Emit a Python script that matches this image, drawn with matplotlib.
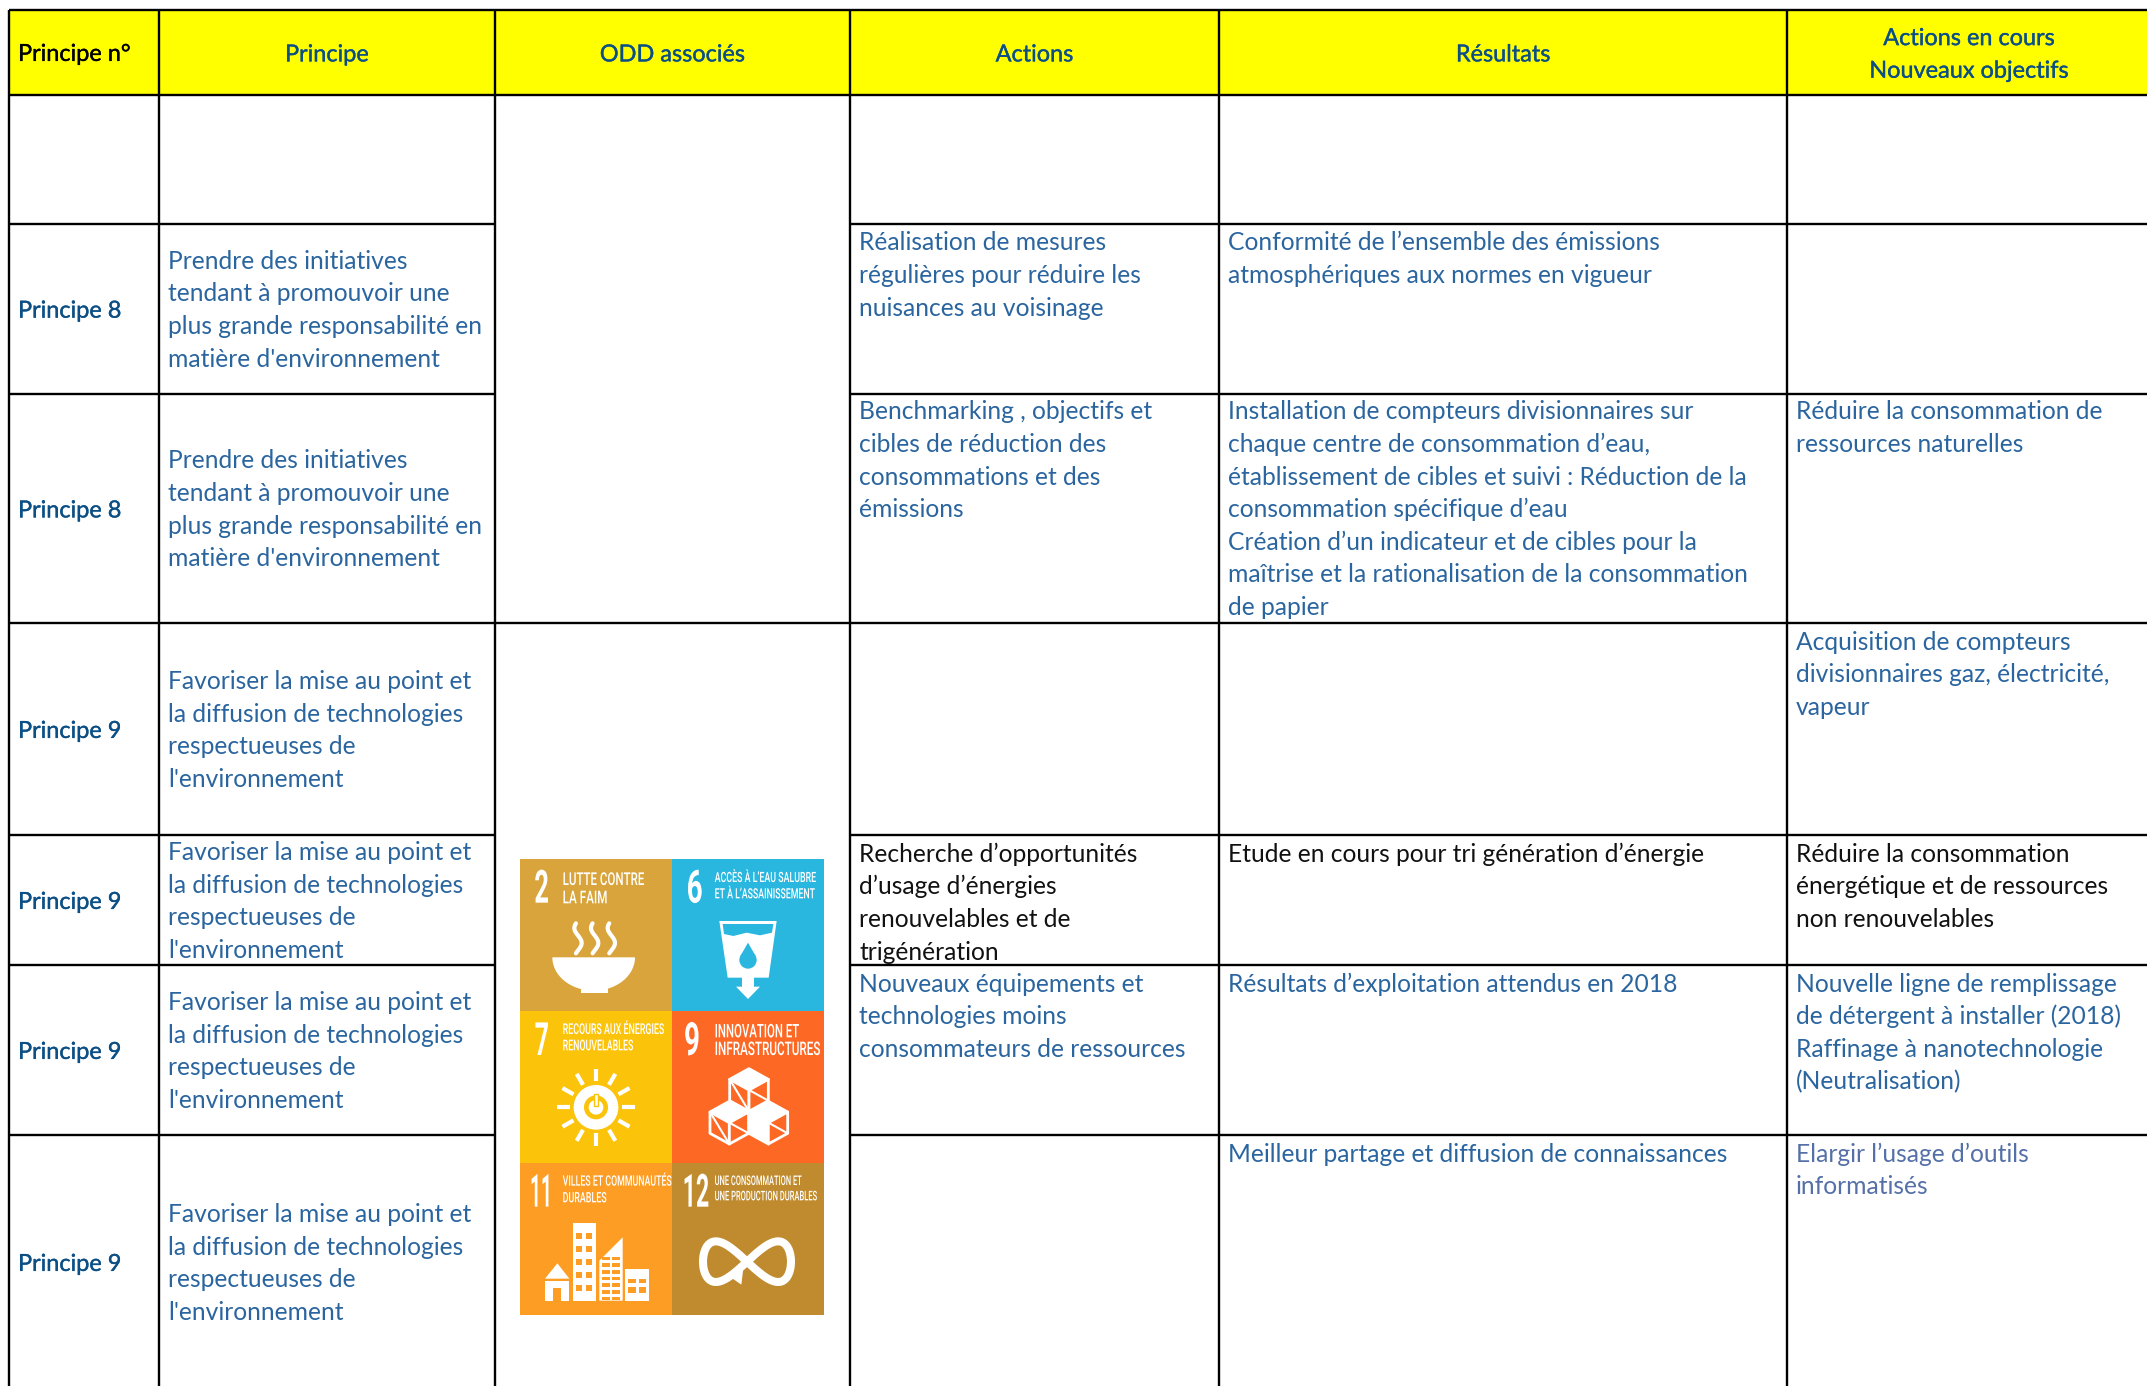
import numpy as np
import matplotlib
matplotlib.use('Agg')
import matplotlib.pyplot as plt
import matplotlib.patheffects as pe
from matplotlib.patches import Rectangle, Polygon, Circle
from matplotlib.text import Text
from matplotlib.transforms import Affine2D, Bbox

plt.rcParams['font.family'] = ['Lato', 'DejaVu Sans']

# ---------- contenu du tableau
headers = ['Principe n°', 'Principe', 'ODD associés', 'Actions', 'Résultats',
           'Actions en cours\nNouveaux objectifs']

principe_no = ['Principe 8', 'Principe 8', 'Principe 9', 'Principe 9', 'Principe 9', 'Principe 9']
txt8 = ['Prendre des initiatives', 'tendant à promouvoir une',
        'plus grande responsabilité en', "matière d'environnement"]
txt9 = ['Favoriser la mise au point et', 'la diffusion de technologies',
        'respectueuses de', "l'environnement"]
principes = [txt8, txt8, txt9, txt9, txt9, txt9]

actions = {1: ['Réalisation de mesures', 'régulières pour réduire les', 'nuisances au voisinage'],
           2: ['Benchmarking , objectifs et', 'cibles de réduction des',
               'consommations et des', 'émissions'],
           4: ["Recherche d’opportunités", 'd’usage d’énergies',
               'renouvelables et de', 'trigénération'],
           5: ['Nouveaux équipements et', 'technologies moins',
               'consommateurs de ressources']}
resultats = {1: ['Conformité de l’ensemble des émissions', 'atmosphériques aux normes en vigueur'],
             2: ['Installation de compteurs divisionnaires sur',
                 'chaque centre de consommation d’eau,',
                 'établissement de cibles et suivi : Réduction de la',
                 'consommation spécifique d’eau',
                 'Création d’un indicateur et de cibles pour la',
                 'maîtrise et la rationalisation de la consommation',
                 'de papier'],
             4: ['Etude en cours pour tri génération d’énergie'],
             5: ['Résultats d’exploitation attendus en 2018'],
             6: ['Meilleur partage et diffusion de connaissances']}
objectifs = {2: ['Réduire la consommation de', 'ressources naturelles'],
             3: ['Acquisition de compteurs', 'divisionnaires gaz, électricité,', 'vapeur'],
             4: ['Réduire la consommation', 'énergétique et de ressources', 'non renouvelables'],
             5: ['Nouvelle ligne de remplissage', 'de détergent à installer (2018)',
                 'Raffinage à nanotechnologie', '(Neutralisation)'],
             6: ['Elargir l’usage d’outils', 'informatisés']}

odd_numeros = ['2', '6', '7', '9', '11', '12']
odd_titres = [['LUTTE CONTRE', 'LA FAIM'],
              ['ACCÈS À L’EAU SALUBRE', 'ET À L’ASSAINISSEMENT'],
              ['RECOURS AUX ÉNERGIES', 'RENOUVELABLES'],
              ['INNOVATION ET', 'INFRASTRUCTURES'],
              ['VILLES ET COMMUNAUTÉS', 'DURABLES'],
              ['UNE CONSOMMATION ET', 'UNE PRODUCTION DURABLES']]
odd_couleurs = ['#D8A43B', '#29B7E0', '#FCC30B', '#FD6925', '#FD9D24', '#BF8B2E']

# ---------- geometrie (pixels de l'image)
W, H = 2147, 1386
col_x = [9, 159, 495, 850, 1219, 1787, W + 5]
row_y = [10, 94.5, 223.5, 394, 623, 835, 965, 1135, 1392]
LINE_H = 32.6
BASE = 8.9
FS = 17.7
FS_H = 16.9
BLEU = '#2A659F'
BLEU_F = '#0B4F85'

fig = plt.figure(figsize=(W / 100, H / 100), dpi=100)
ax = fig.add_axes([0, 0, 1, 1])
ax.set_xlim(0, W)
ax.set_ylim(H, 0)
ax.axis('off')

ax.add_patch(Rectangle((col_x[0], row_y[0]), col_x[-1] - col_x[0], row_y[1] - row_y[0],
                       fc='#FFFF00', ec='none', zorder=0))

LW = 1.7
for x in col_x[:-1]:
    ax.plot([x, x], [row_y[0], H + 5], color='k', lw=LW, solid_capstyle='butt', zorder=3)
for y in [row_y[0], row_y[1], row_y[4]]:
    ax.plot([col_x[0], W + 5], [y, y], color='k', lw=LW, solid_capstyle='butt', zorder=3)
for y in [row_y[2], row_y[3], row_y[5], row_y[6], row_y[7]]:
    ax.plot([col_x[0], col_x[2]], [y, y], color='k', lw=LW, solid_capstyle='butt', zorder=3)
    ax.plot([col_x[3], W + 5], [y, y], color='k', lw=LW, solid_capstyle='butt', zorder=3)


def gras(color):
    return [pe.withStroke(linewidth=0.25, foreground=color)]


def bloc(x, yc, lignes, color, fs=FS, **kw):
    # lignes centrees verticalement sur yc
    y0 = yc - (len(lignes) - 1) * LINE_H / 2
    for i, l in enumerate(lignes):
        ax.text(x, y0 + i * LINE_H + BASE, l, color=color, fontsize=fs, va='baseline', **kw)


# en-tetes
for i, h in enumerate(headers):
    xc = (col_x[i] + min(col_x[i + 1], W)) / 2
    if i == 0:
        ax.text(col_x[0] + 9, 60.9, h, color='k', fontsize=FS_H, va='baseline', path_effects=gras('k'))
    elif i == 5:
        bloc(xc + 2, 52.5, h.split('\n'), BLEU_F, fs=FS_H, ha='center', path_effects=gras(BLEU_F))
    else:
        bloc(xc, 52.5, h.split('\n'), BLEU_F, fs=FS_H, ha='center', path_effects=gras(BLEU_F))

# colonnes 1 et 2
for r in range(6):
    yc = (row_y[r + 2] + row_y[r + 3]) / 2
    if r == 5:
        yc = 1262
    bloc(col_x[0] + 9, yc, [principe_no[r]], BLEU_F, fs=FS_H, path_effects=gras(BLEU_F))
    bloc(col_x[1] + 9, yc, principes[r], BLEU)


def haut(col, cells, couleurs={}):
    for r, lignes in cells.items():
        ytop = row_y[r + 1] + (-1.5 if r == 2 else 0)
        for i, l in enumerate(lignes):
            ax.text(col_x[col] + 9, ytop + 18 + i * LINE_H + BASE, l,
                    color=couleurs.get(r, BLEU), fontsize=FS, va='baseline')


haut(3, actions, {4: '#111111'})
haut(4, resultats, {4: '#111111'})
haut(5, objectifs, {4: '#111111', 6: '#5570A8'})


# ---------- texte condense pour les pictogrammes
class Serre(pe.AbstractPathEffect):
    def __init__(self, sx):
        super().__init__()
        self.sx = sx

    def draw_path(self, renderer, gc, tpath, affine, rgbFace=None):
        m = affine.get_matrix().copy()
        m[0, 0] *= self.sx
        m[0, 1] *= self.sx
        renderer.draw_path(gc, tpath, Affine2D(m), rgbFace)


class TexteEtroit(Text):
    sx = 1.0

    def get_window_extent(self, renderer=None, dpi=None):
        bb = super().get_window_extent(renderer, dpi)
        return Bbox.from_extents(bb.x0, bb.y0, bb.x0 + bb.width * self.sx, bb.y1)


def zx(x):
    return 500 + np.asarray(x) / 3


def zy(y):
    return 840 + np.asarray(y) / 3


rend = fig.canvas.get_renderer()


def etroit(x0, x1, base, s, fs, weight='normal'):
    # texte de x0 a x1 (coordonnees du recadrage), serre en largeur
    t = TexteEtroit(zx(x0), zy(base), s, color='white', fontsize=fs, family=['Roboto', 'DejaVu Sans'],
                    fontweight=weight, va='baseline', ha='left', zorder=6)
    ax.add_artist(t)
    t.sx = (x1 - x0) / 3 / t.get_window_extent(rend).width
    t.set_path_effects([Serre(t.sx)])


def poly(pts, fc='white', z=5):
    pts = np.asarray(pts, dtype=float)
    ax.add_patch(Polygon(np.c_[zx(pts[:, 0]), zy(pts[:, 1])], closed=True, fc=fc, ec='none', zorder=z))


def rect(x0, y0, x1, y1, fc='white'):
    ax.add_patch(Rectangle((zx(x0), zy(y0)), (x1 - x0) / 3, (y1 - y0) / 3, fc=fc, ec='none', zorder=5))


def ligne(xs, ys, lw=2.0, color='white', cap='round'):
    ax.plot(zx(xs), zy(ys), color=color, lw=lw, solid_capstyle=cap, zorder=6)


def disque(x, y, r, fc='white', z=5):
    ax.add_patch(Circle((zx(x), zy(y)), r / 3, fc=fc, ec='none', zorder=z))


tx = [60, 516]
ty = [57, 513, 969]
T = 456
num_x = [(103, 147), (560, 608), (104, 147), (552, 600), (90, 156), (548, 628)]
num_base = [188, 188, 645, 645, 1100, 1100]
tit_x = [[(188, 432), (188, 322)], [(644, 946), (644, 942)], [(188, 493), (188, 400)],
         [(644, 897), (644, 961)], [(188, 513), (188, 319)], [(644, 905), (644, 952)]]
tit_y = [[135, 190], [126, 175], [582, 631], [592, 645], [1037, 1087], [1035, 1081]]
tit_fs = [12.8, 10.2, 10.8, 13.5, 10.4, 9.6]
for k in range(6):
    x0 = tx[k % 2]
    y0 = ty[k // 2]
    rect(x0, y0, x0 + T, y0 + T, odd_couleurs[k])
    etroit(num_x[k][0], num_x[k][1], num_base[k], odd_numeros[k], 33, weight='bold')
    for j, l in enumerate(odd_titres[k]):
        etroit(tit_x[k][j][0], tit_x[k][j][1], tit_y[k][j], l, tit_fs[k], weight='medium')

# 2 : bol
t = np.linspace(0, np.pi, 60)
poly(np.c_[281 + 124 * np.cos(t), 352 + 100 * np.sin(t)])
rect(242, 440, 324, 458)
for x in [232, 282, 332]:
    s = np.linspace(0, 1, 30)
    ligne(x - 11 * np.sin(s * 2 * np.pi + 0.6) + 2, 250 + s * 90, lw=3.0)

# 6 : verre
c = odd_couleurs[1]
poly([[658, 243], [830, 243], [806, 413], [762, 413], [762, 440], [780, 440], [744, 477],
      [708, 440], [726, 440], [726, 413], [683, 413]])
poly([[668, 252], [820, 252], [816, 278], [780, 286], [740, 278], [700, 288], [672, 282]], fc=c)
disque(744, 360, 26, fc=c, z=6)
poly([[744, 308], [720, 350], [768, 350]], fc=c, z=6)

# 7 : soleil
cs = odd_couleurs[2]
disque(288, 802, 67)
disque(288, 802, 36, fc=cs, z=6)
disque(288, 802, 22, fc='white', z=6)
ax.add_patch(Rectangle((zx(281), zy(762)), 14 / 3, 36 / 3, fc='white', ec=cs, lw=1, zorder=7))
for a in np.arange(0, 360, 30):
    ca, sa = np.cos(np.radians(a)), np.sin(np.radians(a))
    ligne([288 + 78 * ca, 288 + 116 * ca], [802 + 78 * sa, 802 + 116 * sa], lw=3.0, cap='butt')

# 9 : cubes
co = odd_couleurs[3]


def cube(x, y, plein):
    # x, y : sommet haut du cube
    a, b, h = 58, 32, 64
    top = [[x, y], [x + a, y + b], [x, y + 2 * b], [x - a, y + b]]
    left = [[x - a, y + b], [x, y + 2 * b], [x, y + 2 * b + h], [x - a, y + b + h]]
    right = [[x, y + 2 * b], [x + a, y + b], [x + a, y + b + h], [x, y + 2 * b + h]]
    for f, fc in ((top, 'white'), (left, plein[0]), (right, plein[1])):
        p = np.array(f)
        ax.add_patch(Polygon(np.c_[zx(p[:, 0]), zy(p[:, 1])], fc=fc, ec='white', lw=2.0, zorder=5, joinstyle='round'))
    for f in (left, right):
        ligne([f[0][0], f[2][0]], [f[0][1], f[2][1]], lw=1.5)


cube(747, 686, (co, co))
cube(688, 784, (co, co))
cube(805, 784, ('white', co))

# 11 : ville
o = odd_couleurs[4]
rect(218, 1150, 288, 1382)
for yy in np.arange(1180, 1360, 39):
    rect(229, yy, 247, yy + 18, o)
    rect(258, yy, 276, yy + 18, o)
poly([[135, 1316], [172, 1270], [208, 1316]])
rect(136, 1322, 207, 1382)
rect(158, 1345, 184, 1382, o)
poly([[298, 1262], [368, 1192], [368, 1382], [298, 1382]])
for yy in np.arange(1250, 1375, 20):
    rect(307, yy, 330, yy + 11, o)
    rect(337, yy, 360, yy + 11, o)
rect(376, 1288, 448, 1382)
rect(385, 1316, 408, 1330, o)
rect(416, 1316, 439, 1330, o)
rect(385, 1340, 408, 1358, o)
rect(416, 1340, 439, 1358, o)

# 12 : infini
s = np.linspace(0, 2 * np.pi, 200)
ligne(741 + 132 * np.cos(s), 1265 + 61 * np.sin(2 * s), lw=5.8)
poly([[678, 1302], [730, 1285], [724, 1334]], z=7)

fig.savefig('out.png', dpi=100)
